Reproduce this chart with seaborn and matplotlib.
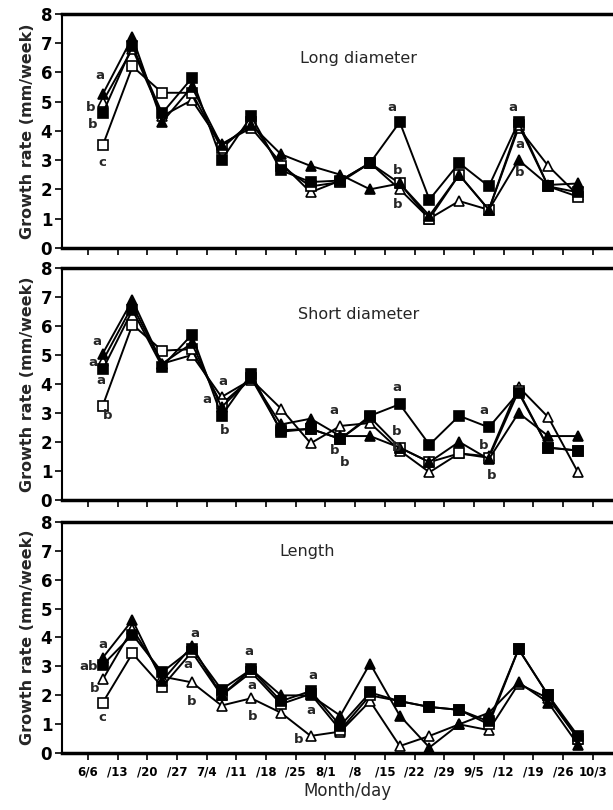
import numpy as np
import pandas as pd
import matplotlib
matplotlib.use("Agg")
import matplotlib.pyplot as plt
import seaborn as sns

weeks = list(range(17))
tick_labels = ["6/6", "/13", "/20", "/27", "7/4", "/11", "/18", "/25", "8/1",
               "/8", "/15", "/22", "/29", "9/5", "/12", "/19", "/26", "10/3"]

# Long diameter
ld_fsq = [4.6, 6.9, 4.6, 5.8, 3.0, 4.5, 2.65, 2.25, 2.3, 2.9, 4.3, 1.65, 2.9, 2.1, 4.3, 2.1, 1.9]
ld_osq = [3.5, 6.2, 5.3, 5.3, 3.4, 4.3, 2.8, 2.1, 2.25, 2.9, 2.2, 1.0, 2.5, 1.3, 4.2, 2.1, 1.75]
ld_ftr = [5.25, 7.2, 4.3, 5.5, 3.5, 4.2, 3.2, 2.8, 2.5, 2.0, 2.2, 1.1, 2.5, 1.3, 3.0, 2.15, 2.2]
ld_otr = [5.0, 6.8, 4.5, 5.05, 3.55, 4.1, 2.9, 1.9, 2.3, 2.9, 2.0, 1.0, 1.6, 1.3, 4.1, 2.8, 1.8]

# Short diameter
sd_fsq = [4.5, 6.55, 4.6, 5.7, 2.9, 4.35, 2.35, 2.45, 2.1, 2.9, 3.3, 1.9, 2.9, 2.5, 3.7, 1.8, 1.7]
sd_osq = [3.25, 6.05, 5.15, 5.2, 3.3, 4.2, 2.4, 2.45, 2.1, 2.85, 1.8, 1.3, 1.6, 1.45, 3.75, 1.8, 1.7]
sd_ftr = [5.05, 6.9, 4.7, 5.4, 3.2, 4.2, 2.6, 2.8, 2.2, 2.2, 1.8, 1.3, 2.0, 1.4, 3.0, 2.2, 2.2]
sd_otr = [4.8, 6.7, 4.7, 5.0, 3.55, 4.15, 3.15, 1.95, 2.55, 2.65, 1.7, 0.95, 1.6, 1.5, 3.9, 2.85, 0.95]

# Length
ln_fsq = [3.05, 4.1, 2.8, 3.6, 2.2, 2.9, 1.8, 2.15, 0.95, 2.1, 1.8, 1.6, 1.5, 1.1, 3.6, 2.0, 0.6]
ln_osq = [1.75, 3.45, 2.3, 3.5, 2.0, 2.8, 1.7, 2.05, 0.8, 2.0, 1.8, 1.6, 1.5, 1.0, 3.6, 2.0, 0.5]
ln_ftr = [3.3, 4.6, 2.5, 3.7, 2.0, 2.9, 2.0, 2.0, 1.3, 3.1, 1.3, 0.2, 1.0, 1.4, 2.45, 1.75, 0.3]
ln_otr = [2.55, 4.3, 2.65, 2.45, 1.65, 1.9, 1.4, 0.6, 0.75, 1.8, 0.25, 0.6, 1.0, 0.8, 2.4, 1.9, 0.5]

panels = [
    ("Long diameter", ld_fsq, ld_osq, ld_ftr, ld_otr),
    ("Short diameter", sd_fsq, sd_osq, sd_ftr, sd_otr),
    ("Length", ln_fsq, ln_osq, ln_ftr, ln_otr),
]

letters = [
    [(-0.1, 5.9, "a"), (-0.4, 4.78, "b"), (-0.33, 4.23, "b"), (0.0, 2.92, "c"),
     (9.73, 4.8, "a"), (9.94, 2.65, "b"), (9.94, 1.48, "b"),
     (13.81, 4.8, "a"), (14.05, 3.54, "a"), (14.05, 2.58, "b")],
    [(-0.19, 5.45, "a"), (-0.32, 4.73, "a"), (-0.07, 4.12, "a"), (0.18, 2.9, "b"),
     (4.06, 4.08, "a"), (3.5, 3.45, "a"), (4.09, 2.38, "b"),
     (7.78, 3.09, "a"), (7.82, 1.69, "b"), (8.15, 1.3, "b"),
     (9.89, 3.87, "a"), (9.89, 2.36, "b"), (9.89, 1.79, "b"),
     (12.83, 3.07, "a"), (12.83, 1.87, "b"), (13.09, 0.84, "b")],
    [(0.0, 3.75, "a"), (-0.49, 3.0, "ab"), (-0.29, 2.25, "b"), (0.0, 1.23, "c"),
     (3.1, 4.15, "a"), (2.86, 3.08, "a"), (2.99, 1.79, "b"),
     (4.92, 3.52, "a"), (5.03, 2.33, "a"), (5.05, 1.27, "b"),
     (7.09, 2.67, "a"), (7.0, 1.49, "a"), (6.61, 0.48, "b")],
]

title_pos = [(0.52, 0.81), (0.52, 0.80), (0.43, 0.87)]

sns.set_style("ticks")
plt.rcParams['font.family'] = ['DejaVu Sans']

fig = plt.figure(figsize=(6.13, 8.10), dpi=100)
axes_rects = [(0.101, 0.694, 0.93, 0.289),
              (0.101, 0.383, 0.93, 0.286),
              (0.101, 0.070, 0.93, 0.286)]

for i, (title, fsq, osq, ftr, otr) in enumerate(panels):
    ax = fig.add_axes(axes_rects[i])
    common = dict(color="black", linewidth=1.4, markersize=7.5, markeredgewidth=1.2,
                  markeredgecolor="black", ax=ax, legend=False)
    sns.lineplot(x=weeks, y=otr, marker="^", markerfacecolor="white", **common)
    sns.lineplot(x=weeks, y=osq, marker="s", markerfacecolor="white", **common)
    sns.lineplot(x=weeks, y=ftr, marker="^", markerfacecolor="black", **common)
    sns.lineplot(x=weeks, y=fsq, marker="s", markerfacecolor="black", **common)
    ax.set_xlim(-1.375, 17.82)
    ax.set_ylim(0, 8)
    ax.set_yticks(range(0, 9))
    ax.set_yticklabels([str(v) for v in range(9)], fontsize=12, fontweight="bold")
    ax.set_xticks(np.arange(-0.5, 17.0, 1.0))
    if i == 2:
        ax.set_xticklabels(tick_labels, fontsize=8.5, fontweight="bold")
        ax.set_xlabel("Month/day", fontsize=12, labelpad=3)
    else:
        ax.set_xticklabels([])
    ax.tick_params(axis="both", direction="out", length=5, width=1.2, colors="black")
    ax.tick_params(axis="y", pad=2)
    ax.spines["right"].set_visible(False)
    ax.spines["top"].set_linewidth(2.5)
    ax.spines["bottom"].set_linewidth(2.5)
    ax.spines["left"].set_linewidth(1.5)
    for s in ax.spines.values():
        s.set_color("black")
    ax.set_ylabel("Growth rate (mm/week)", fontsize=11.5, fontweight="semibold", labelpad=4)
    ax.text(title_pos[i][0], title_pos[i][1], title, transform=ax.transAxes,
            fontsize=11.5, ha="center", va="center")
    for (lx, ly, lt) in letters[i]:
        ax.text(lx, ly, lt, fontsize=9.5, fontweight="bold", ha="center", va="center")

fig.savefig("out.png", dpi=100)
